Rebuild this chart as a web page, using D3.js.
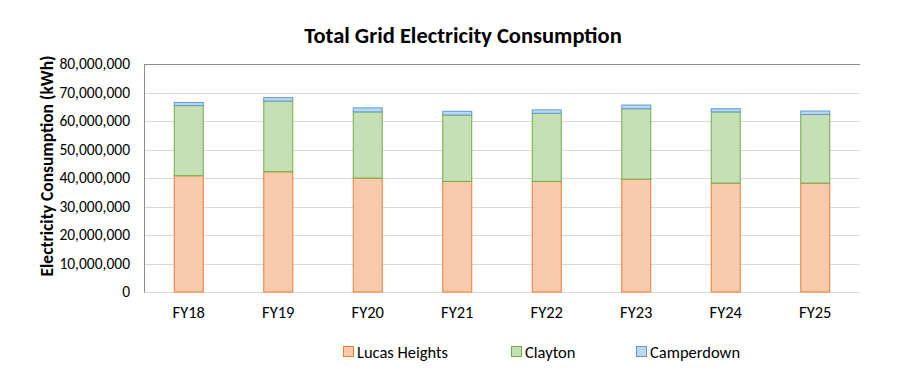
<!DOCTYPE html>
<html><head><meta charset="utf-8">
<script src="https://cdn.jsdelivr.net/npm/d3@7"></script>
<style>body{margin:0;background:#fff;} text{font-family:Calibri,Carlito,"Liberation Sans",Arial,sans-serif;}</style>
</head><body>
<svg id="c" width="900" height="379"></svg>
<script>
const categories = ["FY18","FY19","FY20","FY21","FY22","FY23","FY24","FY25"];
const seriesNames = ["Lucas Heights","Clayton","Camperdown"];
const lucasHeights = [40800000,42200000,40000000,38800000,38800000,39600000,38200000,38200000];
const clayton      = [24600000,24800000,23200000,23300000,23900000,24700000,25000000,24100000];
const camperdown   = [1100000,1200000,1400000,1300000,1200000,1300000,1100000,1200000];
const yTicks = [0,10000000,20000000,30000000,40000000,50000000,60000000,70000000,80000000];
const fills = ["#F8CBAD","#C5E0B4","#BDD7EE"];
const strokes = ["#ED7D31","#70AD47","#5B9BD5"];
const FONT = 'Calibri,Carlito,"Liberation Sans",Arial,sans-serif';

const svg = d3.select("#c");
const m = {l:144, r:860, t:64, b:292};
const x = d3.scaleBand().domain(categories).range([m.l, m.r]).paddingInner(0.665).paddingOuter(0.3325);
const y = d3.scaleLinear().domain([0,80000000]).range([m.b, m.t]);

const rows = categories.map((c,i)=>({cat:c, "Lucas Heights":lucasHeights[i], "Clayton":clayton[i], "Camperdown":camperdown[i]}));
const stacked = d3.stack().keys(seriesNames)(rows);

// gridlines
svg.append("g").selectAll("line").data(yTicks).join("line")
  .attr("x1", m.l).attr("x2", m.r)
  .attr("y1", d=>Math.round(y(d))+0.5).attr("y2", d=>Math.round(y(d))+0.5)
  .attr("stroke", d=> d===80000000 ? "#8c8c8c" : "#d9d9d9").attr("stroke-width",1);

// left axis line
svg.append("line").attr("x1",m.l+0.5).attr("x2",m.l+0.5).attr("y1",m.t).attr("y2",m.b+0.5).attr("stroke","#8c8c8c");

// y tick labels
const yAxis = d3.axisLeft(y).tickValues(yTicks).tickSize(0).tickPadding(14).tickFormat(d3.format(","));
const ga = svg.append("g").attr("transform",`translate(${m.l},0)`).call(yAxis);
ga.select(".domain").remove();
ga.selectAll("text").attr("font-size","15.5px").attr("fill","#000").style("font-family",FONT);

// bars
stacked.forEach((s,k)=>{
  svg.append("g").selectAll("rect").data(s).join("rect")
    .attr("x", d=>x(d.data.cat)+0.5)
    .attr("y", d=>y(d[1]))
    .attr("width", x.bandwidth()-1)
    .attr("height", d=>y(d[0])-y(d[1]))
    .attr("fill", fills[k]).attr("stroke", strokes[k]).attr("stroke-width",1);
});

// x labels
const xAxis = d3.axisBottom(x).tickSize(0).tickPadding(14);
const gx = svg.append("g").attr("transform",`translate(0,${m.b})`).call(xAxis);
gx.select(".domain").remove();
gx.selectAll("text").attr("font-size","16.5px").attr("fill","#000").style("font-family",FONT);

// title
svg.append("text").attr("x",463).attr("y",43).attr("text-anchor","middle")
  .attr("font-size","22.5px").attr("font-weight","bold").attr("fill","#000").text("Total Grid Electricity Consumption");

// y title
svg.append("text").attr("transform","translate(53,166) rotate(-90)").attr("text-anchor","middle")
  .attr("font-size","17.5px").attr("font-weight","bold").attr("fill","#000").text("Electricity Consumption (kWh)");

// legend
const legX = [343, 511, 636];
seriesNames.forEach((n,k)=>{
  svg.append("rect").attr("x",legX[k]+0.5).attr("y",346.5).attr("width",10).attr("height",10)
    .attr("fill",fills[k]).attr("stroke",strokes[k]);
  svg.append("text").attr("x",legX[k]+14).attr("y",357.5).attr("font-size","16.5px").attr("fill","#000").text(n);
});
</script>
</body></html>
